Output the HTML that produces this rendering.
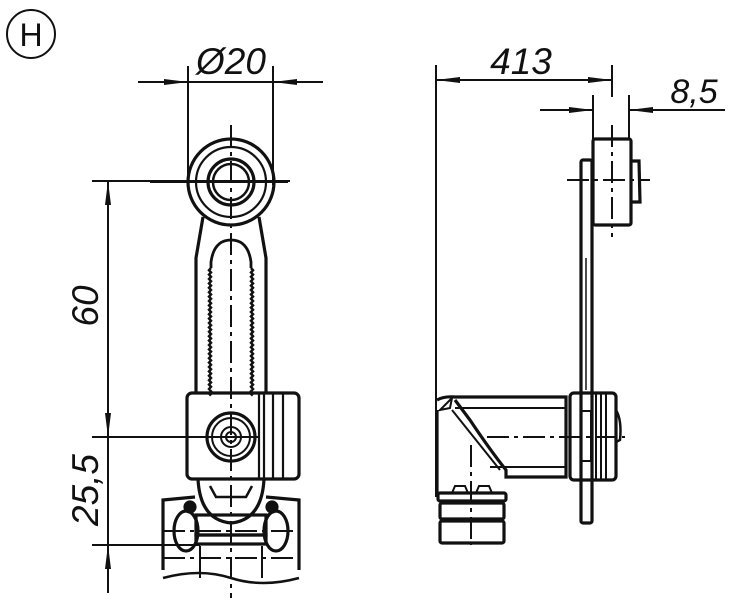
<!DOCTYPE html>
<html><head><style>html,body{margin:0;padding:0;background:#fff;}svg{display:block}</style></head>
<body>
<svg width="750" height="599" viewBox="0 0 750 599" xmlns="http://www.w3.org/2000/svg" fill="none" stroke="#111" stroke-linecap="butt">
<defs>
<marker id="a" viewBox="0 0 24 8" refX="24" refY="4" markerWidth="24" markerHeight="8" markerUnits="userSpaceOnUse" orient="auto"><path d="M0,1 L24,4 L0,7Z" fill="#111" stroke="none"/></marker>
</defs>
<circle cx="31" cy="34" r="24" stroke-width="2"/>
<text x="31" y="46" font-family="Liberation Sans, sans-serif" font-size="32" text-anchor="middle" fill="#111" stroke="none">H</text>

<g font-family="Liberation Sans, sans-serif" font-style="italic" font-size="37" fill="#111" stroke="none">
<text x="231" y="74" text-anchor="middle">Ø20</text>
<text x="521" y="74" text-anchor="middle">413</text>
<text x="694" y="103" text-anchor="middle" font-size="34">8,5</text>
<text transform="translate(98,306) rotate(-90)" text-anchor="middle">60</text>
<text transform="translate(98,490) rotate(-90)" text-anchor="middle">25,5</text>
</g>

<g stroke-width="2">
<line x1="188" y1="66" x2="188" y2="185"/>
<line x1="273" y1="66" x2="273" y2="185"/>
<line x1="138" y1="82" x2="323" y2="82"/>
<line x1="138" y1="82" x2="188" y2="82" marker-end="url(#a)"/>
<line x1="323" y1="82" x2="273" y2="82" marker-end="url(#a)"/>
<line x1="92" y1="181" x2="290" y2="181"/>
<line x1="92" y1="437" x2="260" y2="437"/>
<line x1="92" y1="545" x2="200" y2="545"/>
<line x1="108" y1="181" x2="108" y2="593"/>
<line x1="108" y1="300" x2="108" y2="181" marker-end="url(#a)"/>
<line x1="108" y1="300" x2="108" y2="437" marker-end="url(#a)"/>
<line x1="108" y1="593" x2="108" y2="545" marker-end="url(#a)"/>
</g>

<g stroke-width="3.2">
<circle cx="231" cy="182" r="43"/>
<circle cx="231" cy="182" r="35" stroke-width="2.2"/>
<circle cx="231" cy="182" r="23"/>
<circle cx="231" cy="182" r="18" stroke-width="2.5"/>
<path d="M203,217 L196,258 L196,393 M259,217 L266,258 L266,393"/>
<path d="M211,268 L211,262 Q214,240 231,240 Q248,240 251,262 L251,268" stroke-width="2.8"/>
<path d="M211,268 l-2,2.2 l2,2.2 l-2,2.2 l2,2.2 l-2,2.2 l2,2.2 l-2,2.2 l2,2.2 l-2,2.2 l2,2.2 l-2,2.2 l2,2.2 l-2,2.2 l2,2.2 l-2,2.2 l2,2.2 l-2,2.2 l2,2.2 l-2,2.2 l2,2.2 l-2,2.2 l2,2.2 l-2,2.2 l2,2.2 l-2,2.2 l2,2.2 l-2,2.2 l2,2.2 l-2,2.2 l2,2.2 l-2,2.2 l2,2.2 l-2,2.2 l2,2.2 l-2,2.2 l2,2.2 l-2,2.2 l2,2.2 l-2,2.2 l2,2.2 l-2,2.2 l2,2.2 l-2,2.2 l2,2.2 l-2,2.2 l2,2.2 l-2,2.2 l2,2.2 l-2,2.2 l2,2.2 l-2,2.2 l2,2.2 l-2,2.2 l2,2.2 l-2,2.2 l2,2.2 l-2,2.2 l2,2.2" stroke-width="2.5"/>
<path d="M251,268 l2,2.2 l-2,2.2 l2,2.2 l-2,2.2 l2,2.2 l-2,2.2 l2,2.2 l-2,2.2 l2,2.2 l-2,2.2 l2,2.2 l-2,2.2 l2,2.2 l-2,2.2 l2,2.2 l-2,2.2 l2,2.2 l-2,2.2 l2,2.2 l-2,2.2 l2,2.2 l-2,2.2 l2,2.2 l-2,2.2 l2,2.2 l-2,2.2 l2,2.2 l-2,2.2 l2,2.2 l-2,2.2 l2,2.2 l-2,2.2 l2,2.2 l-2,2.2 l2,2.2 l-2,2.2 l2,2.2 l-2,2.2 l2,2.2 l-2,2.2 l2,2.2 l-2,2.2 l2,2.2 l-2,2.2 l2,2.2 l-2,2.2 l2,2.2 l-2,2.2 l2,2.2 l-2,2.2 l2,2.2 l-2,2.2 l2,2.2 l-2,2.2 l2,2.2 l-2,2.2 l2,2.2 l-2,2.2" stroke-width="2.5"/>
<rect x="187" y="393" width="112" height="86" rx="5"/>
<line x1="259" y1="393" x2="259" y2="479" stroke-width="2.2"/>
<line x1="264" y1="393" x2="264" y2="479" stroke-width="2.2"/>
<line x1="273" y1="393" x2="273" y2="479" stroke-width="2.2"/>
<line x1="283" y1="393" x2="283" y2="479" stroke-width="2.2"/>
<circle cx="231" cy="437" r="24"/>
<circle cx="231" cy="437" r="19" stroke-width="2"/>
<circle cx="231" cy="437" r="10" stroke-width="2"/>
<circle cx="231" cy="437" r="5" stroke-width="2"/>
<path d="M198,479 Q200,520 231,523 Q262,520 264,479"/>
<path d="M210,486 L216,497 L246,497 L252,486" stroke-width="2.5"/>
<path d="M163,570 L163,500 L195,497 M299,570 L299,500 L266,497"/>
<rect x="196" y="515" width="70" height="20"/>
<rect x="196" y="535" width="70" height="9"/>
<ellipse cx="186" cy="531" rx="12" ry="20"/>
<ellipse cx="276" cy="531" rx="12" ry="20"/>
<circle cx="190" cy="507" r="5" fill="#111"/>
<circle cx="272" cy="507" r="5" fill="#111"/>
<path d="M163,578 Q200,568 231,578 Q262,588 299,578" stroke-width="2.5"/>
<path d="M200,546 L200,578 M262,546 L262,578" stroke-width="2"/>
</g>
<g stroke-width="2" stroke-dasharray="22 5 4 5">
<line x1="231" y1="125" x2="231" y2="598"/>
<line x1="150" y1="182" x2="288" y2="182" stroke-dasharray="none"/>
<line x1="163" y1="558" x2="299" y2="558"/>
<line x1="163" y1="531" x2="299" y2="531"/>
</g>

<g stroke-width="2">
<line x1="436" y1="65" x2="436" y2="497"/>
<line x1="612" y1="65" x2="612" y2="97"/>
<line x1="436" y1="80" x2="612" y2="80"/>
<line x1="520" y1="80" x2="436" y2="80" marker-end="url(#a)"/>
<line x1="520" y1="80" x2="612" y2="80" marker-end="url(#a)"/>
<line x1="593" y1="95" x2="593" y2="140"/>
<line x1="629" y1="95" x2="629" y2="140"/>
<line x1="540" y1="110" x2="593" y2="110" marker-end="url(#a)"/>
<line x1="725" y1="110" x2="629" y2="110"/>
<line x1="670" y1="110" x2="629" y2="110" marker-end="url(#a)"/>
</g>

<g stroke-width="3.2">
<rect x="593" y="139" width="38" height="86" rx="2"/>
<path d="M631,161 L639,161 L640,202 L631,202"/>
<rect x="581" y="160" width="11" height="363" rx="2"/>
<line x1="586" y1="258" x2="586" y2="390" stroke-width="1.5"/>
<path d="M437,400 Q444,396 455,397 L566,397 L566,477 L506,477 L506,470 Q490,450 470,420 L455,400"/>
<path d="M437,410 L437,495"/>
<path d="M452,398 Q445,405 440,410 L450,408 Z" stroke-width="2"/>
<line x1="455" y1="408" x2="566" y2="408" stroke-width="2"/>
<line x1="490" y1="467" x2="566" y2="467" stroke-width="2"/>
<line x1="452" y1="410" x2="500" y2="470" stroke-width="2"/>
<rect x="570" y="393" width="46" height="87" rx="4"/>
<rect x="581" y="411" width="10" height="50" stroke-width="2"/>
<line x1="596" y1="393" x2="596" y2="480" stroke-width="2"/>
<line x1="601" y1="393" x2="601" y2="480" stroke-width="2"/>
<line x1="606" y1="393" x2="606" y2="480" stroke-width="2"/>
<path d="M616,410 Q622,420 620,440 L616,442" stroke-width="2.5"/>
<rect x="438" y="493" width="68" height="8" rx="2"/>
<rect x="440" y="503" width="64" height="16" rx="2"/>
<rect x="440" y="521" width="64" height="22" rx="2"/>
<path d="M452,493 L455,486 L465,486 L468,493 M476,493 L479,486 L489,486 L492,493" stroke-width="2"/>
</g>
<g stroke-width="2" stroke-dasharray="22 5 4 5">
<line x1="612" y1="125" x2="612" y2="237"/>
<line x1="567" y1="180" x2="650" y2="180"/>
<line x1="487" y1="437" x2="625" y2="437"/>
<line x1="471" y1="445" x2="471" y2="545"/>
</g>
</svg>
</body></html>
